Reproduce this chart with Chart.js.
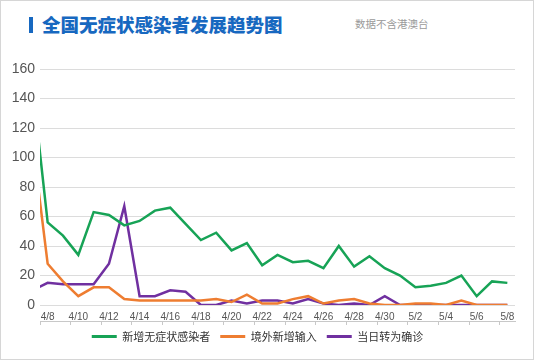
<!DOCTYPE html>
<html>
<head>
<meta charset="utf-8">
<script src="https://cdn.jsdelivr.net/npm/chart.js@4.4.1/dist/chart.umd.min.js"></script>
<style>
  html, body { margin: 0; padding: 0; background: #fff; }
  #wrap { position: relative; width: 534px; height: 360px; overflow: hidden; background: #fff; }
  #frame { position: absolute; left: 0; top: 0; right: 0; bottom: 0; border: 1px solid #d6d6d6; pointer-events: none; }
  #bar { position: absolute; left: 29px; top: 17px; width: 4px; height: 16px; background: #1768c0; }
  #title { position: absolute; left: 42px; top: 12px; font: 900 18.5px "Noto Sans CJK SC", sans-serif; color: #1768c0; line-height: 25px; white-space: nowrap; }
  #note { position: absolute; left: 355px; top: 16px; font: 10.5px "Noto Sans CJK SC", sans-serif; color: #9a9a9a; line-height: 16px; white-space: nowrap; }
  #box { position: absolute; left: 0; top: 48px; width: 534px; height: 310px; }
</style>
</head>
<body>
<div id="wrap">
  <div id="bar"></div>
  <div id="title">全国无症状感染者发展趋势图</div>
  <div id="note">数据不含港澳台</div>
  <div id="box"><canvas id="chart"></canvas></div>
  <div id="frame"></div>
</div>
<script>
// dates 4/7 .. 5/8 (4/7 sits just left of the plot and is clipped)
const dates = ['4/7', '4/8', '4/9', '4/10', '4/11', '4/12', '4/13', '4/14', '4/15', '4/16',
  '4/17', '4/18', '4/19', '4/20', '4/21', '4/22', '4/23', '4/24', '4/25', '4/26',
  '4/27', '4/28', '4/29', '4/30', '5/1', '5/2', '5/3', '5/4', '5/5', '5/6', '5/7', '5/8'];

const newAsymptomatic = [150, 56, 47, 34, 63, 61, 54, 57, 64, 66, 55, 44, 49, 37, 42, 27,
  34, 29, 30, 25, 40, 26, 33, 25, 20, 12, 13, 15, 20, 6, 16, 15];
const importedNew = [112, 28, 16, 6, 12, 12, 4, 3, 3, 3, 3, 3, 4, 2, 7, 1,
  1, 4, 6, 1, 3, 4, 1, 0, 0, 1, 1, 0, 3, 0, 0, 0];
const toConfirmed = [10, 15, 14, 14, 14, 28, 67, 6, 6, 10, 9, 0, 0, 3, 1, 3,
  3, 1, 4, 1, 0, 1, 0, 6, 0, 0, 0, 0, 0, 0, 0, 0];

const yTicks = [0, 20, 40, 60, 80, 100, 120, 140, 160];

const seriesNames = ['新增无症状感染者', '境外新增输入', '当日转为确诊'];
const seriesColors = ['#17a356', '#ee7d31', '#7030a0'];

function points(values) {
    return values.map((v, i) => ({ x: i, y: v }));
}

const latin = '"Liberation Sans", Arial, sans-serif';
const narrow = '"Liberation Sans Narrow", "Liberation Sans", Arial, sans-serif';
const cjk = '"Noto Sans CJK SC", sans-serif';

const ctx = document.getElementById('chart').getContext('2d');

new Chart(ctx, {
    type: 'line',
    data: {
        datasets: [newAsymptomatic, importedNew, toConfirmed].map((vals, k) => ({
            label: seriesNames[k],
            data: points(vals),
            borderColor: seriesColors[k],
            backgroundColor: seriesColors[k],
            borderWidth: 2.5,
            pointRadius: 0,
            tension: 0,
            fill: false
        }))
    },
    options: {
        responsive: true,
        maintainAspectRatio: false,
        animation: false,
        layout: { padding: { top: 21, right: 19, left: 0, bottom: 6 } },
        plugins: {
            tooltip: { enabled: false },
            legend: {
                position: 'bottom',
                labels: {
                    boxWidth: 25,
                    boxHeight: 3,
                    padding: 10,
                    color: '#333',
                    font: { family: cjk, size: 11 },
                    generateLabels(chart) {
                        return Chart.defaults.plugins.legend.labels.generateLabels(chart)
                            .map(l => Object.assign(l, { lineWidth: 0 }));
                    }
                }
            }
        },
        scales: {
            x: {
                type: 'linear',
                min: 0.5,
                max: 31.5,
                afterBuildTicks(scale) {
                    const t = [];
                    for (let i = 1; i < dates.length; i += 2) t.push({ value: i });
                    scale.ticks = t;
                },
                afterFit(scale) { scale.height = 16; },
                grid: { display: false, drawTicks: false },
                border: { display: false },
                ticks: {
                    autoSkip: false,
                    maxRotation: 0,
                    padding: 6,
                    color: '#555',
                    font: { family: narrow, size: 10 },
                    callback: v => dates[v]
                }
            },
            xMarks: {
                type: 'linear',
                position: 'bottom',
                min: 0.5,
                max: 31.5,
                afterBuildTicks(scale) {
                    const t = [];
                    for (let v = 0.5; v <= 31.5; v += 2) t.push({ value: v });
                    scale.ticks = t;
                },
                afterFit(scale) { scale.height = 0; },
                grid: { drawOnChartArea: false, drawTicks: true, tickLength: 4, color: '#c8c8c8' },
                border: { display: true, color: '#c8c8c8', width: 1 },
                ticks: { display: false }
            },
            y: {
                min: 0,
                max: 160,
                afterBuildTicks(scale) {
                    scale.ticks = yTicks.map(v => ({ value: v }));
                },
                afterFit(scale) { scale.width = 40; },
                grid: { color: '#dcdcdc', drawTicks: false },
                border: { display: false },
                ticks: {
                    padding: 5,
                    color: '#555',
                    font: { family: latin, size: 14 }
                }
            }
        }
    }
});
</script>
</body>
</html>
